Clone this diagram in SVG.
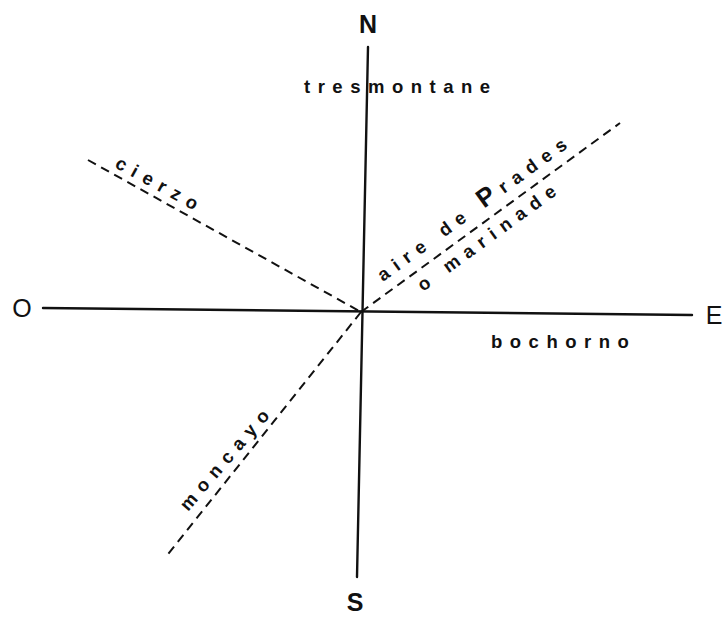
<svg xmlns="http://www.w3.org/2000/svg" width="724" height="617" viewBox="0 0 724 617">
<style>
.axis{stroke:#111;stroke-width:2.4;fill:none;stroke-linecap:round}
.dash{stroke:#111;stroke-width:2;fill:none;stroke-dasharray:9 6}
.lbl{font-family:"Liberation Sans",Arial,sans-serif;font-size:18.5px;font-weight:bold;fill:#111;letter-spacing:7.5px}
.card{font-family:"Liberation Sans",Arial,sans-serif;font-size:25px;fill:#111}
</style>
<rect width="724" height="617" fill="#fff"/>
<g id="connectors">
<line class="axis" x1="368" y1="47" x2="357" y2="577"/>
<line class="axis" x1="43" y1="308" x2="692" y2="315"/>
<line class="dash" x1="88" y1="160" x2="361" y2="312"/>
<line class="dash" x1="361" y1="312" x2="620" y2="123"/>
<line class="dash" x1="361" y1="312" x2="165" y2="558"/>
</g>
<g id="N"><text class="card" x="368" y="33" text-anchor="middle" font-weight="bold">N</text></g>
<g id="S"><text class="card" x="355" y="611" text-anchor="middle" font-weight="bold">S</text></g>
<g id="O"><text class="card" x="22" y="317" text-anchor="middle">O</text></g>
<g id="E"><text class="card" x="714" y="324" text-anchor="middle">E</text></g>
<g id="tresmontane"><text class="lbl" x="304" y="93">tresmontane</text></g>
<g id="bochorno"><text class="lbl" x="491" y="348">bochorno</text></g>
<g id="cierzo"><text class="lbl" x="114" y="167" transform="rotate(28.6 114 167)">cierzo</text></g>
<g id="aire"><text class="lbl" x="383" y="282" transform="rotate(-36 383 282)">aire de <tspan font-size="26">P</tspan>rades</text></g>
<g id="marinade"><text class="lbl" x="423" y="292" transform="rotate(-36 423 292)">o marinade</text></g>
<g id="moncayo"><text class="lbl" x="188" y="512" transform="rotate(-49.3 188 512)">moncayo</text></g>
</svg>
